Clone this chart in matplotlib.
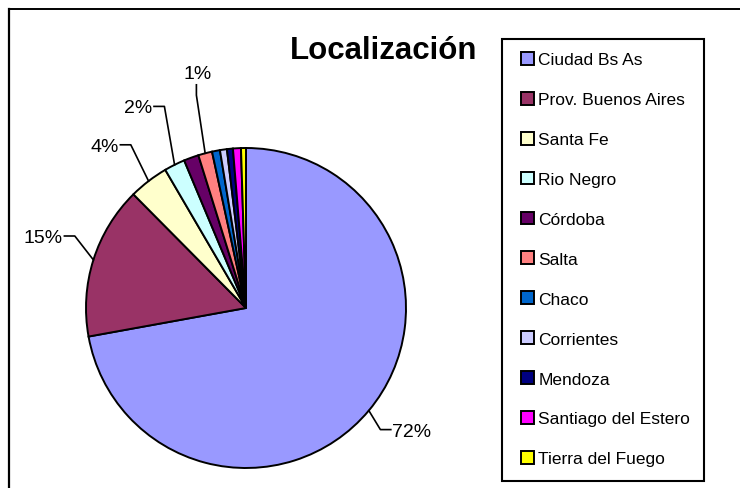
import numpy as np
import matplotlib
matplotlib.use('Agg')
import matplotlib.pyplot as plt
from matplotlib.patches import Rectangle
from matplotlib.lines import Line2D

plt.rcParams['font.family'] = ['Liberation Sans', 'DejaVu Sans']

provincias = ['Ciudad Bs As', 'Prov. Buenos Aires', 'Santa Fe', 'Rio Negro',
              'Córdoba', 'Salta', 'Chaco', 'Corrientes', 'Mendoza',
              'Santiago del Estero', 'Tierra del Fuego']
porcentajes = [72.0, 15.4, 4.0, 2.1, 1.5, 1.4, 0.8, 0.7, 0.6, 0.8, 0.5]
colores = ['#9999FF', '#993366', '#FFFFCC', '#CCFFFF', '#660066', '#FF8080',
           '#0066CC', '#CCCCFF', '#000080', '#FF00FF', '#FFFF00']
# slices with a label -> elbow of the leader line (in pie radii)
codos = {0: (0.84, -0.76), 1: (-1.07, 0.45), 2: (-0.72, 1.02),
         3: (-0.51, 1.26), 5: (-0.31, 1.33)}

W, H = 740, 489
fig = plt.figure(figsize=(W / 100, H / 100), dpi=100)

# outer chart border (left and top only are visible)
fig.add_artist(Line2D([9 / W, 9 / W], [0, 1 - 10 / H], color='black', lw=1.6))
fig.add_artist(Line2D([9 / W, 1], [1 - 10 / H, 1 - 10 / H], color='black', lw=1.4))

cx, cy, r = 246, 309, 160
ax = fig.add_axes([(cx - r) / W, (H - cy - r) / H, 2 * r / W, 2 * r / H])
wedges, _ = ax.pie(porcentajes, colors=colores, startangle=90, counterclock=False,
                   radius=1, wedgeprops=dict(edgecolor='black', linewidth=1.4))
ax.set_xlim(-1, 1)
ax.set_ylim(-1, 1)
ax.set_aspect('equal')
ax.axis('off')

total = sum(porcentajes)
for i, (x1, y1) in codos.items():
    w = wedges[i]
    ang = np.deg2rad((w.theta1 + w.theta2) / 2)
    x0, y0 = np.cos(ang), np.sin(ang)
    txt = f'{porcentajes[i] / total * 100:.0f}%'
    if i == 5:
        ax.plot([x0, x1, x1], [y0, y1, y1 + 0.065], color='black', lw=1.2,
                clip_on=False)
        ax.text(x1 + 0.01, y1 + 0.085, txt, ha='center', va='bottom', fontsize=14)
    else:
        d = 0.065 if x1 > 0 else -0.065
        ax.plot([x0, x1, x1 + d], [y0, y1, y1], color='black', lw=1.2, clip_on=False)
        ax.text(x1 + d * 1.15, y1 - 0.01, txt, ha='left' if x1 > 0 else 'right',
                va='center', fontsize=14)

fig.text(384 / W, 1 - 51 / H, 'Localización', ha='center', va='center',
         fontsize=22.5, fontweight='bold')

# legend box
fig.add_artist(Rectangle((502 / W, 1 - 482 / H), 202 / W, 442 / H,
                         transform=fig.transFigure, fill=False,
                         edgecolor='black', lw=1.5))
fig.legend(wedges, provincias, loc='upper left',
           bbox_to_anchor=(521 / W, 1 - 53 / H), frameon=False,
           fontsize=12.5, handlelength=0.75, handleheight=0.75,
           handletextpad=0.25, labelspacing=1.41, borderpad=0, borderaxespad=0)

fig.savefig('out.png', dpi=100)
